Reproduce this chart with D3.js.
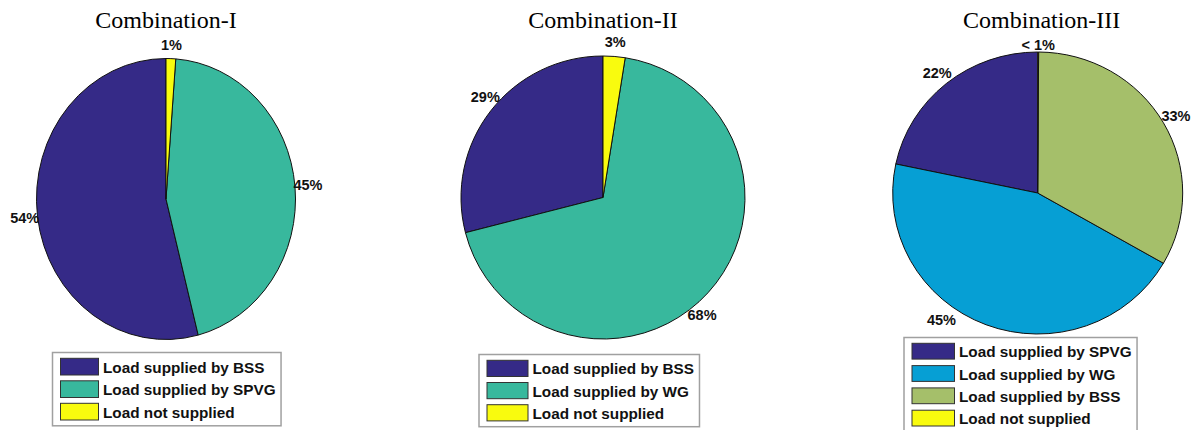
<!DOCTYPE html>
<html>
<head>
<meta charset="utf-8">
<script src="https://cdn.jsdelivr.net/npm/d3@7"></script>
<style>
  html, body { margin: 0; padding: 0; background: #fff; }
  svg { display: block; }
</style>
</head>
<body>
<svg id="chart" width="1192" height="430"></svg>
<script>
// ---------------- data ----------------
const titles = ["Combination-I", "Combination-II", "Combination-III"];

const categories1 = ["Load supplied by BSS", "Load supplied by SPVG", "Load not supplied"];
const values1 = [54.0, 44.8, 1.2];
const labels1 = ["54%", "45%", "1%"];

const categories2 = ["Load supplied by BSS", "Load supplied by WG", "Load not supplied"];
const values2 = [29.0, 68.5, 2.5];
const labels2 = ["29%", "68%", "3%"];

const categories3 = ["Load supplied by SPVG", "Load supplied by WG", "Load supplied by BSS", "Load not supplied"];
const values3 = [21.7, 45.0, 33.2, 0.1];
const labels3 = ["22%", "45%", "33%", "< 1%"];

// ---------------- styling / layout ----------------
const palette3 = ["#352a87", "#38b89d", "#f9fb0e"];
const palette4 = ["#352a87", "#069fd4", "#a5bf6a", "#f9fb0e"];

// manual label placement of the original (angle shift in degrees, radius factor)
const labelPlace = [
  [[0, 1.1], [0, 1.1], [0, 1.1]],
  [[2.7, 1.09], [7.7, 1.085], [0, 1.1]],
  [[0, 1.1], [15.6, 1.117], [0, 1.1], [0, 1.05]]
];

const panels = [
  { title: titles[0], cats: categories1, vals: values1, labs: labels1, colors: palette3,
    cx: 166, cy: 199, rx: 129.5, ry: 140.5, lx: 52.5, ly: 352.5, sw: 38, sh: 16.7, step: 22.5 },
  { title: titles[1], cats: categories2, vals: values2, labs: labels2, colors: palette3,
    cx: 603, cy: 197.5, rx: 142, ry: 141.5, lx: 479, ly: 354.5, sw: 41, sh: 16.2, step: 22.2 },
  { title: titles[2], cats: categories3, vals: values3, labs: labels3, colors: palette4,
    cx: 1037.7, cy: 193, rx: 145, ry: 141, lx: 904, ly: 337.5, sw: 42.5, sh: 15.8, step: 22.3 }
];

const svg = d3.select("#chart");

panels.forEach((p, pi) => {
  const g = svg.append("g");

  // title
  g.append("text")
    .attr("x", p.cx + (pi === 2 ? 4 : 0))
    .attr("y", 28)
    .attr("text-anchor", "middle")
    .style("font-family", "'Liberation Serif', 'Times New Roman', serif")
    .style("font-size", "24px")
    .style("fill", "#000")
    .text(p.title);

  // pie (MATLAB style: start at top, counter-clockwise)
  const pie = d3.pie().sort(null).value(d => d).startAngle(0).endAngle(-2 * Math.PI);
  const arcs = pie(p.vals);
  const arc = d3.arc().innerRadius(0).outerRadius(p.ry);
  const color = d3.scaleOrdinal().domain(d3.range(p.vals.length)).range(p.colors);

  const pg = g.append("g")
    .attr("transform", `translate(${p.cx},${p.cy}) scale(${p.rx / p.ry},1)`);
  pg.selectAll("path")
    .data(arcs)
    .join("path")
    .attr("d", arc)
    .attr("fill", (d, i) => color(i))
    .attr("stroke", "#111")
    .attr("stroke-width", 1)
    .attr("vector-effect", "non-scaling-stroke");

  // percentage labels
  g.selectAll("text.pct")
    .data(arcs)
    .join("text")
    .attr("class", "pct")
    .attr("x", (d, i) => {
      const [shift, f] = labelPlace[pi][i];
      const a = (d.startAngle + d.endAngle) / 2 + shift * Math.PI / 180;
      return p.cx + f * p.rx * Math.sin(a);
    })
    .attr("y", (d, i) => {
      const [shift, f] = labelPlace[pi][i];
      const a = (d.startAngle + d.endAngle) / 2 + shift * Math.PI / 180;
      return p.cy - f * p.ry * Math.cos(a);
    })
    .attr("text-anchor", "middle")
    .attr("dominant-baseline", "central")
    .style("font-family", "'Liberation Sans', Arial, Helvetica, sans-serif")
    .style("font-weight", "bold")
    .style("font-size", "14.5px")
    .style("fill", "#111")
    .text((d, i) => p.labs[i]);

  // legend
  const lg = g.append("g");
  const box = lg.append("rect")
    .attr("fill", "#fff")
    .attr("stroke", "#a0a0a0")
    .attr("stroke-width", 1.5);
  const padX = 8, padY = 5.8;
  const items = lg.selectAll("g.item")
    .data(p.cats)
    .join("g")
    .attr("class", "item")
    .attr("transform", (d, i) => `translate(${p.lx + padX},${p.ly + padY + i * p.step})`);
  items.append("rect")
    .attr("width", p.sw)
    .attr("height", p.sh)
    .attr("fill", (d, i) => color(i))
    .attr("stroke", "#333")
    .attr("stroke-width", 1);
  const texts = items.append("text")
    .attr("x", p.sw + 4.5)
    .attr("y", p.sh / 2 + 0.5)
    .attr("dominant-baseline", "central")
    .style("font-family", "'Liberation Sans', Arial, Helvetica, sans-serif")
    .style("font-weight", "bold")
    .style("font-size", "15.3px")
    .style("fill", "#111")
    .text(d => d);
  let maxW = 0;
  texts.each(function () { maxW = Math.max(maxW, this.getComputedTextLength()); });
  box.attr("x", p.lx)
    .attr("y", p.ly)
    .attr("width", padX + p.sw + 4.5 + maxW + 5.5)
    .attr("height", padY * 2 + (p.cats.length - 1) * p.step + p.sh);
});
</script>
</body>
</html>
